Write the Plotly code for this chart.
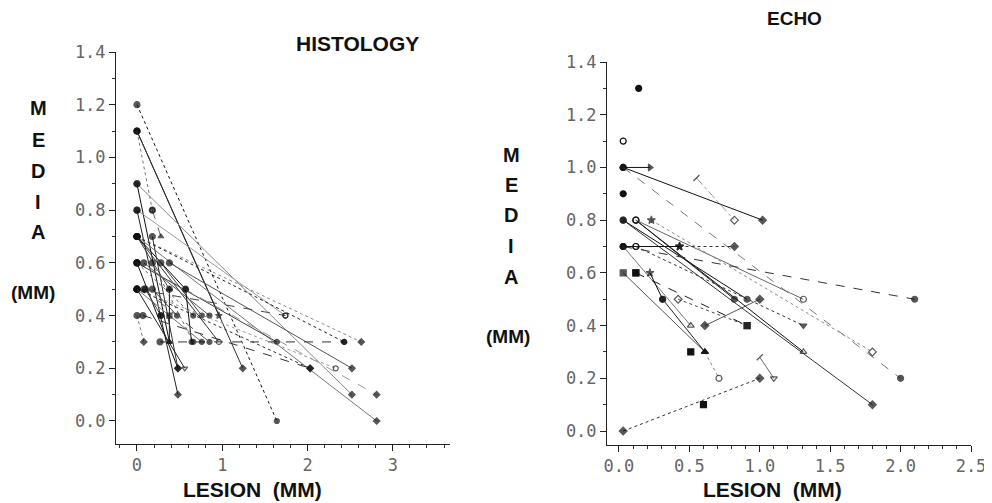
import plotly.graph_objects as go

# ---------------- DATA ----------------
# HISTOLOGY panel: each patient drawn as a segment (lesion0, media0) -> (lesion1, media1)
hist_x0 = [0.0, 0.0, 0.0, 0.0, 0.18, 0.0, 0.0, 0.0, 0.0, 0.0, 0.0, 0.0, 0.0, 0.0, 0.18,
           0.0, 0.0, 0.0, 0.08, 0.18, 0.28, 0.38, 0.0, 0.0, 0.0, 0.0, 0.57, 0.18, 0.38,
           0.07, 0.27, 0.0, 0.08, 0.0, 0.1, 0.28, 0.0, 0.0]
hist_y0 = [1.2, 1.1, 1.1, 1.1, 0.8, 0.9, 0.9, 0.8, 0.8, 0.7, 0.7, 0.7, 0.7, 0.7, 0.7,
           0.6, 0.6, 0.6, 0.6, 0.6, 0.6, 0.6, 0.5, 0.5, 0.5, 0.5, 0.5, 0.5, 0.5,
           0.4, 0.3, 0.5, 0.5, 0.6, 0.5, 0.4, 0.4, 0.7]
hist_x1 = [1.64, 0.96, 1.24, 0.18, 0.28, 2.52, 0.38, 1.74, 0.48, 2.63, 2.81, 0.96, 0.57, 0.38, 0.48,
           2.81, 1.64, 0.48, 0.85, 0.66, 0.76, 2.52, 2.33, 2.03, 1.74, 0.56, 0.64, 0.47, 0.38,
           2.03, 2.43, 0.76, 0.85, 0.66, 0.28, 0.38, 0.08, 2.43]
hist_y1 = [0.0, 0.4, 0.2, 0.8, 0.7, 0.1, 0.3, 0.4, 0.1, 0.3, 0.0, 0.3, 0.5, 0.5, 0.2,
           0.1, 0.3, 0.2, 0.4, 0.3, 0.4, 0.2, 0.2, 0.2, 0.4, 0.2, 0.3, 0.4, 0.3,
           0.2, 0.3, 0.3, 0.3, 0.4, 0.4, 0.4, 0.3, 0.3]

# ECHO panel
echo_x0 = [0.03, 0.03, 0.03, 0.03, 0.03, 0.03, 0.12, 0.12, 0.12, 0.23, 0.03, 0.43, 0.03, 0.12,
           0.03, 0.03, 0.12, 0.22, 0.42, 0.61, 0.61, 1.0, 0.55, 0.31]
echo_y0 = [0.0, 1.0, 1.0, 1.0, 0.8, 0.8, 0.8, 0.8, 0.8, 0.8, 0.7, 0.7, 0.7, 0.7,
           0.7, 0.6, 0.6, 0.6, 0.5, 0.4, 0.3, 0.28, 0.96, 0.5]
echo_x1 = [1.0, 0.22, 1.02, 2.0, 0.91, 1.8, 1.31, 0.82, 1.31, 1.8, 0.43, 0.82, 2.1, 1.31,
           0.51, 0.61, 0.91, 0.31, 0.91, 1.0, 0.71, 1.1, 0.82, 0.61]
echo_y1 = [0.2, 1.0, 0.8, 0.2, 0.5, 0.1, 0.3, 0.5, 0.5, 0.3, 0.7, 0.7, 0.5, 0.4,
           0.4, 0.3, 0.4, 0.5, 0.4, 0.5, 0.2, 0.2, 0.8, 0.3]
# isolated echo observations
echo_pt_x = [0.03, 0.14, 0.03, 0.51, 0.6, 0.12, 0.12]
echo_pt_y = [1.1, 1.3, 0.9, 0.3, 0.1, 0.7, 0.6]

x_ticks_hist = [0, 1, 2, 3]
x_ticks_echo = [0.0, 0.5, 1.0, 1.5, 2.0, 2.5]
y_ticks = [0.0, 0.2, 0.4, 0.6, 0.8, 1.0, 1.2, 1.4]

# ---------------- STYLES ----------------
line_cols = ["#111", "#222", "#333", "#777", "#666", "#888", "#111", "#999", "#222", "#888", "#777", "#333",
             "#111", "#444", "#333", "#999", "#444", "#111", "#555", "#666", "#444", "#555", "#999", "#333",
             "#444", "#222", "#111", "#444", "#222", "#333", "#333", "#777", "#555", "#666", "#444", "#333",
             "#777", "#222"]
dashes = ["dot", "solid", "solid", "dot", "dash", "solid", "solid", "solid", "solid", "dot", "solid", "solid",
          "solid", "solid", "solid", "dash", "solid", "solid", "solid", "dot", "solid", "solid", "dot", "dot",
          "dash", "solid", "solid", "solid", "solid", "dash", "dash", "solid", "dash", "dot", "solid", "dot",
          "dot", "dot"]
end_syms = ["circle-dot", "star", "diamond", "circle-open", "triangle-up", "diamond", "triangle-up",
            "circle-open", "diamond", "diamond", "diamond", "circle-open", "circle", "triangle-up", "diamond",
            "diamond", "circle-dot", "diamond", "circle", "circle", "circle", "diamond", "circle-open",
            "diamond", "circle-open", "triangle-down-open", "circle", "circle", "triangle-up", "diamond",
            "circle", "circle", "circle", "circle", "circle", "square", "diamond", "circle"]

e_cols = ["#333", "#111", "#111", "#777", "#111", "#333", "#111", "#222", "#666", "#888", "#111", "#333",
          "#333", "#333", "#777", "#555", "#222", "#111", "#444", "#555", "#888", "#666", "#999", "#222"]
e_dash = ["dot", "solid", "solid", "dash", "solid", "solid", "solid", "solid", "solid", "dot", "solid", "dot",
          "dash", "dot", "solid", "solid", "dash", "solid", "dot", "solid", "dot", "solid", "dashdot", "solid"]
e_sym = ["diamond", "triangle-right", "diamond", "circle", "circle", "diamond", "triangle-up-open", "circle",
         "circle-open", "diamond-open", "star", "diamond", "circle", "triangle-down", "triangle-up-open",
         "triangle-up", "square", "circle", "square", "diamond", "circle-open", "triangle-down-open",
         "diamond-open", "triangle-up"]
e_start = ["diamond", "circle-dot", "circle-dot", "circle-dot", "circle-dot", "circle-dot", "circle-open",
           "circle-open", "circle-open", "star", "circle-dot", "star", "circle-dot", "circle-open", "circle-dot",
           "square", "square", "star", "diamond-open", "diamond", "triangle-up", "line-ne", "line-ne", "circle"]

fig = go.Figure()

for i in range(len(hist_x0)):
    fig.add_trace(go.Scatter(
        x=[hist_x0[i], hist_x1[i]], y=[hist_y0[i], hist_y1[i]],
        mode="lines+markers", xaxis="x", yaxis="y", showlegend=False,
        line=dict(color=line_cols[i], width=1, dash=dashes[i]),
        marker=dict(symbol=["circle-dot", end_syms[i]], size=[6, 5], color="#111",
                    line=dict(color="#111", width=1.2))))

for i in range(len(echo_x0)):
    fig.add_trace(go.Scatter(
        x=[echo_x0[i], echo_x1[i]], y=[echo_y0[i], echo_y1[i]],
        mode="lines+markers", xaxis="x2", yaxis="y2", showlegend=False,
        line=dict(color=e_cols[i], width=1, dash=e_dash[i]),
        marker=dict(symbol=[e_start[i], e_sym[i]], size=[6, 6], color="#111",
                    line=dict(color="#111", width=1.2))))

fig.add_trace(go.Scatter(
    x=echo_pt_x, y=echo_pt_y, mode="markers", xaxis="x2", yaxis="y2", showlegend=False,
    marker=dict(symbol=["circle-open", "circle", "circle", "square", "square", "circle-open", "square"],
                size=6, color="#111", line=dict(color="#111", width=1.2))))

tickfont = dict(family="DejaVu Sans Mono", size=17, color="#666")
W, H = 992, 503
OFF = 8  # page body margin of the generated html


def px(v):
    return (v - OFF) / W


def py(v):
    return (H - (v - OFF)) / H


base = dict(showline=True, linecolor="#222", linewidth=1, showgrid=False, zeroline=False,
            ticks="outside", ticklen=6, tickcolor="#222", tickfont=tickfont, automargin=False)

fig.update_layout(
    template="none",
    width=W, height=H, margin=dict(l=0, r=0, t=0, b=0, pad=0, autoexpand=False),
    paper_bgcolor="white", plot_bgcolor="white",
    xaxis=dict(domain=[px(116), px(450)], range=[-0.246, 3.67],
               tickvals=x_ticks_hist, ticktext=[str(v) for v in x_ticks_hist], anchor="y",
               minor=dict(ticks="outside", ticklen=3, tickcolor="#333", dtick=0.2, tick0=0), **base),
    yaxis=dict(domain=[py(444), py(52)], range=[-0.0873, 1.4], anchor="x",
               tickvals=y_ticks, ticktext=["%.1f" % v for v in y_ticks],
               minor=dict(ticks="outside", ticklen=3, tickcolor="#333", dtick=0.1, tick0=0), **base),
    xaxis2=dict(domain=[px(607), px(971)], range=[-0.085, 2.5],
                tickvals=x_ticks_echo, ticktext=["%.1f" % v for v in x_ticks_echo], anchor="y2",
                minor=dict(ticks="outside", ticklen=3, tickcolor="#333", dtick=0.1, tick0=0), **base),
    yaxis2=dict(domain=[py(445), py(62)], range=[-0.053, 1.4], anchor="x2",
                tickvals=y_ticks, ticktext=["%.1f" % v for v in y_ticks],
                minor=dict(ticks="outside", ticklen=3, tickcolor="#333", dtick=0.1, tick0=0), **base),
)

annots = [
    ("HISTOLOGY", 357, 43, 21),
    ("ECHO", 794, 19, 19),
    ("LESION  (MM)", 252, 489, 21),
    ("LESION  (MM)", 772, 489, 21),
    ("(MM)", 33, 292, 19),
    ("(MM)", 508, 336, 19),
]
for ch, y in zip("MEDIA", [108, 140, 171, 202, 232]):
    annots.append((ch, 38, y, 20))
for ch, y in zip("MEDIA", [155, 185, 215, 246, 277]):
    annots.append((ch, 511, y, 20))

for t, x, y, s in annots:
    fig.add_annotation(text="<b>%s</b>" % t, x=px(x), y=py(y), xref="paper", yref="paper",
                       showarrow=False, xanchor="center", yanchor="middle",
                       font=dict(family="Liberation Sans", size=s, color="#111"))

fig.write_html("out.html")
